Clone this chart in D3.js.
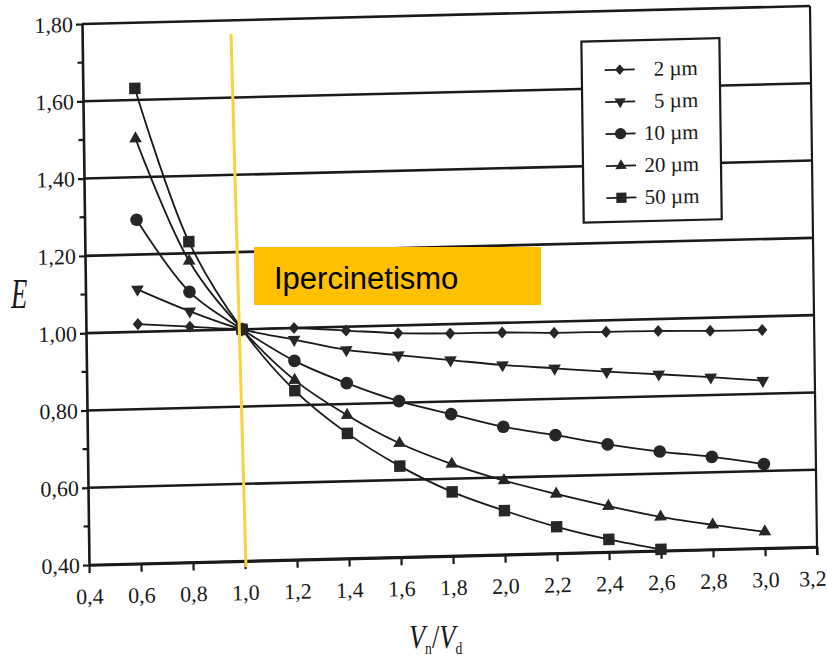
<!DOCTYPE html>
<html>
<head>
<meta charset="utf-8">
<script src="https://cdn.jsdelivr.net/npm/d3@7"></script>
<style>
  body { margin: 0; background: #fff; }
  svg { display: block; }
</style>
</head>
<body>
<div id="chart"></div>
<script>
// data
const xValues = [0.6, 0.8, 1.0, 1.2, 1.4, 1.6, 1.8, 2.0, 2.2, 2.4, 2.6, 2.8, 3.0];
const e2um  = [1.02, 1.01, 1.00, 1.00, 0.99, 0.98, 0.976, 0.975, 0.971, 0.970, 0.969, 0.966, 0.965];
const e5um  = [1.11, 1.05, 1.00, 0.97, 0.94, 0.923, 0.907, 0.891, 0.879, 0.867, 0.857, 0.846, 0.834];
const e10um = [1.29, 1.10, 1.00, 0.915, 0.854, 0.804, 0.767, 0.731, 0.706, 0.679, 0.657, 0.640, 0.618];
const e20um = [1.50, 1.18, 1.00, 0.865, 0.771, 0.695, 0.638, 0.592, 0.554, 0.519, 0.488, 0.464, 0.443];
const e50um = [1.63, 1.23, 1.00, 0.838, 0.724, 0.636, 0.566, 0.514, 0.469, 0.433, 0.404];
const seriesNames = ["2 µm", "5 µm", "10 µm", "20 µm", "50 µm"];
const xTicks = [0.4, 0.6, 0.8, 1.0, 1.2, 1.4, 1.6, 1.8, 2.0, 2.2, 2.4, 2.6, 2.8, 3.0, 3.2];
const yTicks = [0.4, 0.6, 0.8, 1.0, 1.2, 1.4, 1.6, 1.8];
const yMinor = [0.5, 0.7, 0.9, 1.1, 1.3, 1.5, 1.7];
const noteText = "Ipercinetismo";

const width = 827, height = 657;
const W = 728, H = 541;        // plot size in the chart's own (unskewed) frame
const ink = "#1a1a1a";

const svg = d3.select("#chart").append("svg")
    .attr("width", width)
    .attr("height", height);

// the scan is slightly tilted / sheared, so the whole chart lives in a skewed group
const g = svg.append("g")
    .attr("transform", "matrix(1,-0.02473,0.01294,1,82,24)");

const x = d3.scaleLinear().domain([0.4, 3.2]).range([0, W]);
const y = d3.scaleLinear().domain([0.4, 1.8]).range([H, 0]);

const comma = f => v => d3.format(f)(v).replace(".", ",");

// horizontal gridlines (top and bottom ones double as the frame)
g.selectAll("line.grid")
    .data(yTicks)
    .enter().append("line")
    .attr("class", "grid")
    .attr("x1", 0).attr("x2", W)
    .attr("y1", d => y(d)).attr("y2", d => y(d))
    .attr("stroke", ink)
    .attr("stroke-width", 2.6);

// right border, running down into the last tick
g.append("line")
    .attr("x1", W).attr("x2", W)
    .attr("y1", y(1.8)).attr("y2", H + 8)
    .attr("stroke", ink).attr("stroke-width", 2.2);

// axes
const xAxis = g.append("g")
    .attr("transform", `translate(0,${H})`)
    .call(d3.axisBottom(x).tickValues(xTicks).tickSize(8).tickSizeOuter(0).tickFormat(comma(".1f")));

const yAxis = g.append("g")
    .call(d3.axisLeft(y).tickValues(yTicks).tickSize(6).tickSizeOuter(0).tickFormat(comma(".2f")));

[xAxis, yAxis].forEach(a => {
    a.select(".domain").attr("stroke", ink).attr("stroke-width", 2.6);
    a.selectAll(".tick line").attr("stroke", ink).attr("stroke-width", 2.2);
    a.selectAll(".tick text")
        .attr("fill", ink)
        .style("font-family", "'Liberation Serif', serif")
        .style("font-size", "22px");
});
xAxis.selectAll(".tick text").attr("y", 39).attr("dy", 0)
    .attr("dx", d => d === 3.2 ? -5 : 0);
yAxis.selectAll(".tick text").attr("x", -9).attr("dy", "0.33em");

g.selectAll("line.minor")
    .data(yMinor)
    .enter().append("line")
    .attr("class", "minor")
    .attr("x1", -5).attr("x2", 0)
    .attr("y1", d => y(d)).attr("y2", d => y(d))
    .attr("stroke", ink).attr("stroke-width", 2.2);

// marker shapes
const diamond = {
    draw(ctx, size) {
        const r = Math.sqrt(size / 2);
        ctx.moveTo(0, -r * 1.1);
        ctx.lineTo(r * 0.95, 0);
        ctx.lineTo(0, r * 1.1);
        ctx.lineTo(-r * 0.95, 0);
        ctx.closePath();
    }
};
const shapes = [
    { type: diamond, size: 60, rotate: 0 },
    { type: d3.symbolTriangle, size: 70, rotate: 180 },
    { type: d3.symbolCircle, size: 125, rotate: 0 },
    { type: d3.symbolTriangle, size: 70, rotate: 0 },
    { type: d3.symbolSquare, size: 130, rotate: 0 }
];

const seriesValues = [e2um, e5um, e10um, e20um, e50um];
const series = seriesValues.map((vals, i) => ({
    name: seriesNames[i],
    shape: shapes[i],
    points: vals.map((e, j) => ({ x: xValues[j], e: e }))
}));

const line = d3.line()
    .x(d => x(d.x))
    .y(d => y(d.e))
    .curve(d3.curveCatmullRom.alpha(0.5));

const sg = g.selectAll("g.series")
    .data(series)
    .enter().append("g")
    .attr("class", "series");

sg.append("path")
    .attr("d", d => line(d.points))
    .attr("fill", "none")
    .attr("stroke", ink)
    .attr("stroke-width", 1.8);

sg.each(function(s) {
    d3.select(this).selectAll("path.mark")
        .data(s.points)
        .enter().append("path")
        .attr("class", "mark")
        .attr("d", d3.symbol().type(s.shape.type).size(s.shape.size))
        .attr("transform", d => `translate(${x(d.x)},${y(d.e)}) rotate(${s.shape.rotate})`)
        .attr("fill", "#262626");
});

// legend box (white, hides the gridlines behind it)
const legend = g.append("g").attr("transform", "translate(499,30)");
legend.append("rect")
    .attr("width", 138).attr("height", 181)
    .attr("fill", "#fff")
    .attr("stroke", ink).attr("stroke-width", 2.2);

const li = legend.selectAll("g.item")
    .data(series)
    .enter().append("g")
    .attr("class", "item")
    .attr("transform", (d, i) => `translate(0,${29 + i * 32})`);

li.append("line")
    .attr("x1", 23).attr("x2", 53)
    .attr("stroke", ink).attr("stroke-width", 1.8);
li.append("path")
    .attr("d", d => d3.symbol().type(d.shape.type).size(d.shape.size * 0.8)())
    .attr("transform", d => `translate(38,0) rotate(${d.shape.rotate})`)
    .attr("fill", "#262626");
li.append("text")
    .attr("x", 116)
    .attr("dy", "0.33em")
    .attr("text-anchor", "end")
    .attr("fill", ink)
    .style("font-family", "'Liberation Serif', serif")
    .style("font-size", "21px")
    .text(d => d.name);

// axis titles
svg.append("text")
    .attr("transform", "translate(11,308) scale(0.62,1)")
    .attr("fill", ink)
    .style("font-family", "'Liberation Serif', serif")
    .style("font-style", "italic")
    .style("font-size", "43px")
    .text("E");

const xt = svg.append("text")
    .attr("transform", "translate(409,648) scale(0.8,1)")
    .attr("fill", ink)
    .style("font-family", "'Liberation Serif', serif")
    .style("font-size", "33px");
xt.append("tspan").style("font-style", "italic").text("V");
xt.append("tspan").attr("dy", 6).style("font-size", "17px").text("n");
xt.append("tspan").attr("dy", -6).text("/");
xt.append("tspan").style("font-style", "italic").text("V");
xt.append("tspan").attr("dy", 6).style("font-size", "17px").text("d");

// overlay annotations (added on top of the scan, not tilted)
svg.append("line")
    .attr("x1", 231).attr("y1", 34)
    .attr("x2", 246).attr("y2", 567)
    .attr("stroke", "#f8d43c")
    .attr("stroke-width", 3);

svg.append("rect")
    .attr("x", 254).attr("y", 247)
    .attr("width", 287).attr("height", 58)
    .attr("fill", "#ffc000");

svg.append("text")
    .attr("x", 274).attr("y", 289)
    .attr("fill", "#000")
    .style("font-family", "'Liberation Sans', Arial, sans-serif")
    .style("font-size", "31px")
    .text(noteText);
</script>
</body>
</html>
